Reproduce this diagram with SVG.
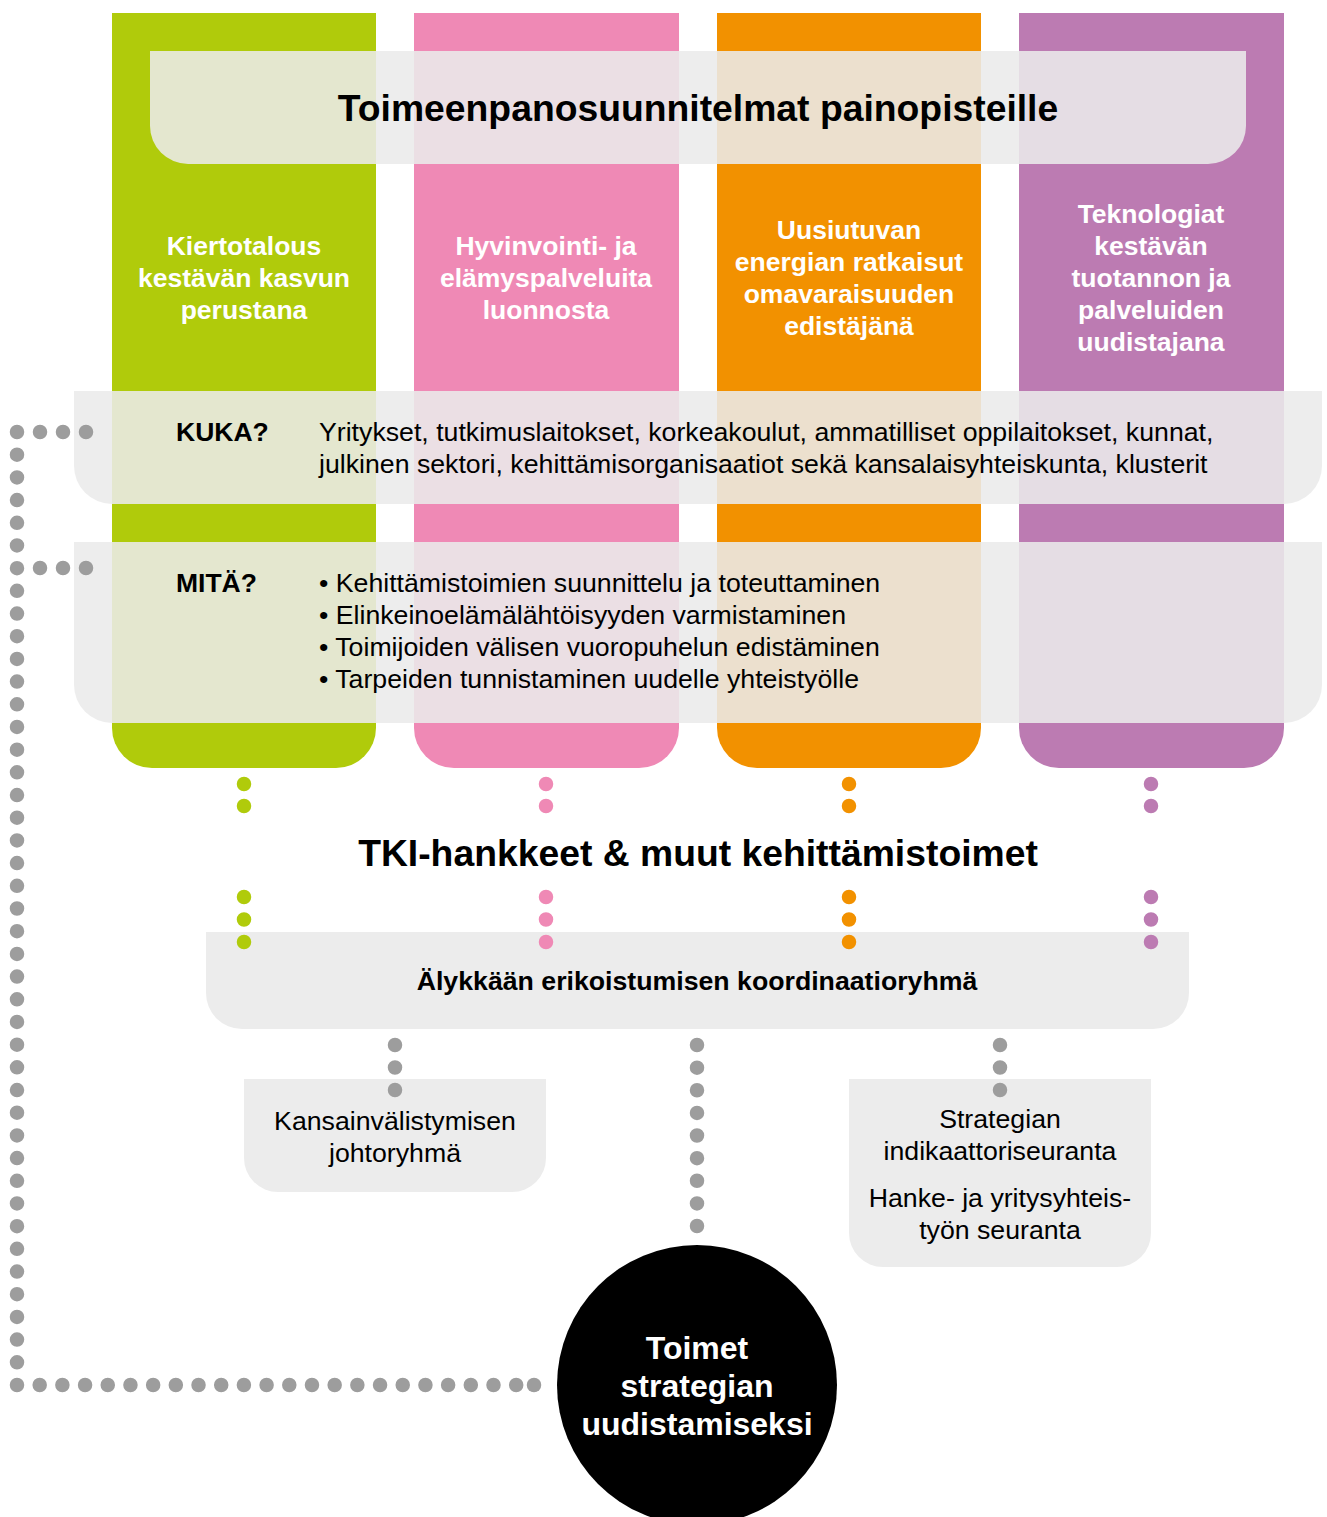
<svg xmlns="http://www.w3.org/2000/svg" width="1327" height="1517" viewBox="0 0 1327 1517">
<defs>
<style>
text{font-family:"Liberation Sans",Arial,sans-serif;}
.hdr{fill:#fff;font-weight:bold;font-size:26.5px;text-anchor:middle;}
.title{fill:#000;font-weight:bold;font-size:37.3px;text-anchor:middle;}
.lbl{fill:#000;font-weight:bold;font-size:26.5px;}
.body{fill:#000;font-size:26.7px;}
.cbody{fill:#000;font-size:26.7px;text-anchor:middle;}
.panel{fill:#ebebeb;fill-opacity:0.88;}
.box{fill:#ececec;}
.dot{fill:none;stroke-linecap:round;stroke-width:14.5;}
.gray{stroke:#9d9d9d;}
</style>
</defs>
<rect width="1327" height="1517" fill="#fff"/>
<g id="columns">
<g id="col-kiertotalous">
<path d="M112,13 H376 V728 A40,40 0 0 1 336,768 H152 A40,40 0 0 1 112,728 Z" fill="#b0cb0b"/>
<text class="hdr"><tspan x="244" y="255">Kiertotalous</tspan><tspan x="244" y="287">kestävän kasvun</tspan><tspan x="244" y="319">perustana</tspan></text>
</g>
<g id="col-hyvinvointi">
<path d="M414,13 H679 V728 A40,40 0 0 1 639,768 H454 A40,40 0 0 1 414,728 Z" fill="#ef89b5"/>
<text class="hdr"><tspan x="546" y="255">Hyvinvointi- ja</tspan><tspan x="546" y="287">elämyspalveluita</tspan><tspan x="546" y="319">luonnosta</tspan></text>
</g>
<g id="col-energia">
<path d="M717,13 H981 V728 A40,40 0 0 1 941,768 H757 A40,40 0 0 1 717,728 Z" fill="#f29100"/>
<text class="hdr"><tspan x="849" y="239">Uusiutuvan</tspan><tspan x="849" y="271">energian ratkaisut</tspan><tspan x="849" y="303">omavaraisuuden</tspan><tspan x="849" y="335">edistäjänä</tspan></text>
</g>
<g id="col-teknologiat">
<path d="M1019,13 H1284 V728 A40,40 0 0 1 1244,768 H1059 A40,40 0 0 1 1019,728 Z" fill="#bc7bb2"/>
<text class="hdr"><tspan x="1151" y="223">Teknologiat</tspan><tspan x="1151" y="255">kestävän</tspan><tspan x="1151" y="287">tuotannon ja</tspan><tspan x="1151" y="319">palveluiden</tspan><tspan x="1151" y="351">uudistajana</tspan></text>
</g>
</g>
<g id="toimeenpano">
<path class="panel" d="M150,51 H1246 V126 A38,38 0 0 1 1208,164 H188 A38,38 0 0 1 150,126 Z"/>
<text class="title" x="698" y="121">Toimeenpanosuunnitelmat painopisteille</text>
</g>
<g id="kuka">
<path class="panel" d="M74,391 H1322 V466 A38,38 0 0 1 1284,504 H112 A38,38 0 0 1 74,466 Z"/>
<text class="lbl" x="176" y="441">KUKA?</text>
<text class="body"><tspan x="319" y="441">Yritykset, tutkimuslaitokset, korkeakoulut, ammatilliset oppilaitokset, kunnat,</tspan><tspan x="319" y="473">julkinen sektori, kehittämisorganisaatiot sekä kansalaisyhteiskunta, klusterit</tspan></text>
</g>
<g id="mita">
<path class="panel" d="M74,542 H1322 V685 A38,38 0 0 1 1284,723 H112 A38,38 0 0 1 74,685 Z"/>
<text class="lbl" x="176" y="592">MITÄ?</text>
<text class="body"><tspan x="319" y="592">• Kehittämistoimien suunnittelu ja toteuttaminen</tspan><tspan x="319" y="624">• Elinkeinoelämälähtöisyyden varmistaminen</tspan><tspan x="319" y="656">• Toimijoiden välisen vuoropuhelun edistäminen</tspan><tspan x="319" y="688">• Tarpeiden tunnistaminen uudelle yhteistyölle</tspan></text>
</g>
<g id="tki">
<text class="title" x="698" y="866">TKI-hankkeet &amp; muut kehittämistoimet</text>
</g>
<g id="koordinaatioryhma">
<path class="box" d="M206,932 H1189 V993 A36,36 0 0 1 1153,1029 H242 A36,36 0 0 1 206,993 Z"/>
<text x="697" y="990" style="font-weight:bold;font-size:26.7px;text-anchor:middle;fill:#000">Älykkään erikoistumisen koordinaatioryhmä</text>
</g>
<g id="kansainvalistyminen">
<path class="box" d="M244,1079 H546 V1158 A34,34 0 0 1 512,1192 H278 A34,34 0 0 1 244,1158 Z"/>
<text class="cbody"><tspan x="395" y="1130">Kansainvälistymisen</tspan><tspan x="395" y="1162">johtoryhmä</tspan></text>
</g>
<g id="seuranta">
<path class="box" d="M849,1079 H1151 V1233 A34,34 0 0 1 1117,1267 H883 A34,34 0 0 1 849,1233 Z"/>
<text class="cbody"><tspan x="1000" y="1128">Strategian</tspan><tspan x="1000" y="1160">indikaattoriseuranta</tspan><tspan x="1000" y="1207">Hanke- ja yritysyhteis-</tspan><tspan x="1000" y="1239">työn seuranta</tspan></text>
</g>
<g id="toimet">
<circle cx="697" cy="1385" r="140" fill="#000"/>
<text style="fill:#fff;font-weight:bold;font-size:32px;text-anchor:middle"><tspan x="697" y="1359">Toimet</tspan><tspan x="697" y="1397">strategian</tspan><tspan x="697" y="1435">uudistamiseksi</tspan></text>
</g>
<g id="connectors">
<path class="dot" stroke="#b0cb0b" stroke-dasharray="0 22" d="M244,784 V807"/>
<path class="dot" stroke="#b0cb0b" stroke-dasharray="0 22.5" d="M244,897 V943"/>
<path class="dot" stroke="#ef89b5" stroke-dasharray="0 22" d="M546,784 V807"/>
<path class="dot" stroke="#ef89b5" stroke-dasharray="0 22.5" d="M546,897 V943"/>
<path class="dot" stroke="#f29100" stroke-dasharray="0 22" d="M849,784 V807"/>
<path class="dot" stroke="#f29100" stroke-dasharray="0 22.5" d="M849,897 V943"/>
<path class="dot" stroke="#bc7bb2" stroke-dasharray="0 22" d="M1151,784 V807"/>
<path class="dot" stroke="#bc7bb2" stroke-dasharray="0 22.5" d="M1151,897 V943"/>
<path class="dot gray" stroke-dasharray="0 22.5" d="M395,1045 V1091"/>
<path class="dot gray" stroke-dasharray="0 22.625" d="M697,1045 V1227"/>
<path class="dot gray" stroke-dasharray="0 22.5" d="M1000,1045 V1091"/>
<path class="dot gray" stroke-dasharray="0 22.690476" d="M17,432 V1386"/>
<path class="dot gray" stroke-dasharray="0 22.690476" d="M39.69,1385 H518"/>
<path class="dot gray" d="M534,1385 h0.01"/>
<path class="dot gray" stroke-dasharray="0 23" d="M40,432 H87"/>
<path class="dot gray" stroke-dasharray="0 23" d="M40,568 H87"/>
</g>
</svg>
